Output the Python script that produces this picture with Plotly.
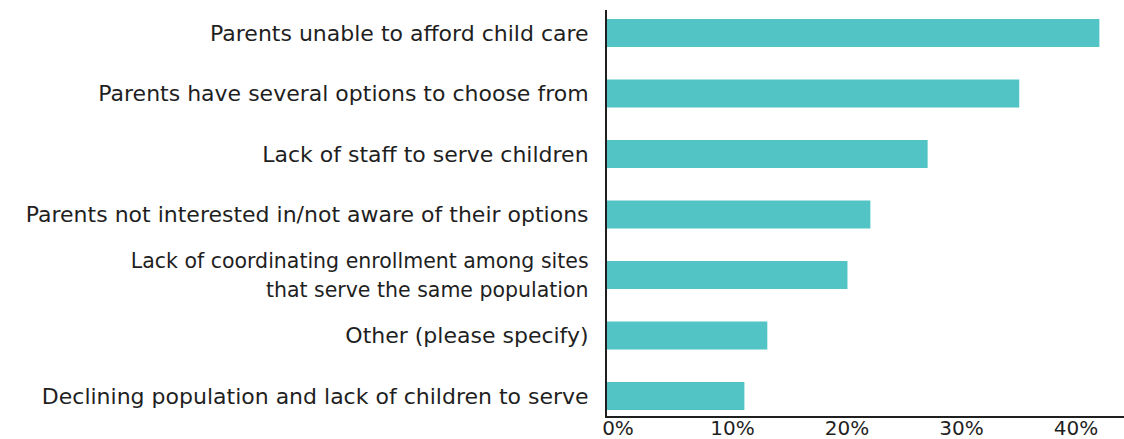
import plotly.graph_objects as go

# Survey responses, listed top to bottom
categories = [
    "Parents unable to afford child care",
    "Parents have several options to choose from",
    "Lack of staff to serve children",
    "Parents not interested in/not aware of their options",
    "<span style='font-size:20.5px'>Lack of coordinating enrollment among sites<br>that serve the same population</span>",
    "Other (please specify)",
    "Declining population and lack of children to serve",
]
percent = [43, 36, 28, 23, 21, 14, 12]

tick_values = [0, 10, 20, 30, 40]
tick_text = ["0%", "10%", "20%", "30%", "40%"]

# plot bottom-to-top so the first category sits at the top
cats_rev = categories[::-1]
vals_rev = percent[::-1]
positions = list(range(len(cats_rev)))

FONT = "DejaVu Sans"
INK = "#1f1f1f"

fig = go.Figure(
    go.Bar(
        x=vals_rev,
        y=positions,
        orientation="h",
        marker=dict(color="#53C4C5", line=dict(width=0)),
        width=0.46,
        hoverinfo="skip",
    )
)

fig.update_layout(
    template="none",
    width=1124,
    height=439,
    margin=dict(l=607, r=0, t=10, b=23, autoexpand=False),
    paper_bgcolor="white",
    plot_bgcolor="white",
    showlegend=False,
    font=dict(family=FONT, size=22, color=INK),
)

fig.update_xaxes(
    automargin=False,
    range=[0, 45.15],
    tickvals=tick_values,
    ticktext=tick_text,
    showgrid=False,
    zeroline=False,
    showline=True,
    linecolor=INK,
    linewidth=2,
    ticks="",
    ticklabelshift=11,
    ticklabelstandoff=-7,
    tickfont=dict(family=FONT, size=20, color=INK),
)

fig.update_yaxes(
    automargin=False,
    range=[-0.33, 6.38],
    tickvals=positions,
    ticktext=cats_rev,
    showgrid=False,
    zeroline=False,
    showline=True,
    linecolor=INK,
    linewidth=2,
    ticks="",
    ticklabelstandoff=12,
    tickfont=dict(family=FONT, size=22, color=INK),
)

fig.write_html("out.html")
